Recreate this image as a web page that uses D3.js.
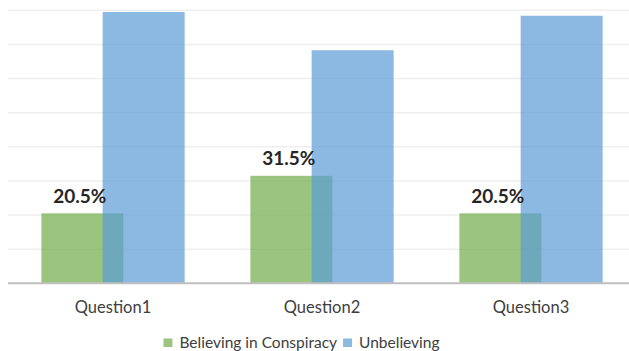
<!DOCTYPE html>
<html>
<head>
<meta charset="utf-8">
<script src="https://cdn.jsdelivr.net/npm/d3@7"></script>
<style>
  body { margin: 0; background: #fff; }
  text { font-family: Lato, "Open Sans", sans-serif; }
</style>
</head>
<body>
<svg></svg>
<script>
let categories = ["Question1", "Question2", "Question3"];
let believing = [20.5, 31.5, 20.5];
let unbelieving = [79.5, 68.3, 78.4];
let gridTicks = [0, 10, 20, 30, 40, 50, 60, 70, 80];
let seriesNames = ["Believing in Conspiracy", "Unbelieving"];
let seriesColors = ["#70AD47", "#5B9BD5"];

window.addEventListener('load', e => {
    let width = 629;
    let height = 351;
    let plotLeft = 8;
    let plotRight = 629;
    let barWidth = 82;
    let overlap = 20.7;

    let svg = d3.select("svg")
                .attr("width", width)
                .attr("height", height);

    let xScale = d3.scaleBand()
                   .domain(categories)
                   .range([8.5, 635.5]);

    let yScale = d3.scaleLinear()
                   .domain([0, 80])
                   .range([283.3, 10.3]);

    // light gridlines
    svg.append("g")
       .selectAll("line")
       .data(gridTicks.slice(1))
       .enter()
       .append("line")
         .attr("x1", plotLeft)
         .attr("x2", plotRight)
         .attr("y1", d => yScale(d))
         .attr("y2", d => yScale(d))
         .attr("stroke", "#efefef")
         .attr("stroke-width", 1.6);

    let pairWidth = barWidth * 2 - overlap;
    let greenX = c => xScale(c) + xScale.bandwidth() / 2 - pairWidth / 2;

    svg.append("g")
       .selectAll("rect")
       .data(categories)
       .enter()
       .append("rect")
         .attr("x", d => greenX(d))
         .attr("y", (d, i) => yScale(believing[i]))
         .attr("width", barWidth)
         .attr("height", (d, i) => yScale(0) - yScale(believing[i]))
         .attr("fill", seriesColors[0])
         .attr("fill-opacity", 0.7);

    svg.append("g")
       .selectAll("rect")
       .data(categories)
       .enter()
       .append("rect")
         .attr("x", d => greenX(d) + barWidth - overlap)
         .attr("y", (d, i) => yScale(unbelieving[i]))
         .attr("width", barWidth)
         .attr("height", (d, i) => yScale(0) - yScale(unbelieving[i]))
         .attr("fill", seriesColors[1])
         .attr("fill-opacity", 0.7);

    // baseline
    let xAxis = d3.axisBottom(xScale).tickSize(0).tickPadding(0);
    let axisG = svg.append("g")
                   .attr("transform", "translate(0," + yScale(0) + ")")
                   .call(xAxis);
    axisG.select(".domain").remove();
    axisG.append("line")
         .attr("x1", plotLeft)
         .attr("x2", plotRight)
         .attr("stroke", "#bfbfbf")
         .attr("stroke-width", 2);
    axisG.selectAll(".tick text")
         .attr("dy", null)
         .attr("y", 29.5)
         .style("font-family", "Lato, sans-serif")
         .style("font-size", "16.5px")
         .attr("fill", "#404040");

    // data labels
    svg.append("g")
       .selectAll("text")
       .data(categories)
       .enter()
       .append("text")
         .attr("x", d => greenX(d) + barWidth / 2 - 2.5)
         .attr("y", (d, i) => yScale(believing[i]) - 10.5)
         .style("text-anchor", "middle")
         .style("font-size", "19px")
         .style("font-weight", "bold")
         .attr("fill", "#262626")
         .text((d, i) => believing[i].toFixed(1) + "%");

    // legend
    let legend = svg.append("g");
    let items = legend.selectAll("g")
                      .data(seriesNames)
                      .enter()
                      .append("g");
    items.append("rect")
         .attr("width", 9)
         .attr("height", 8.5)
         .attr("y", 338.5)
         .attr("fill", (d, i) => seriesColors[i])
         .attr("fill-opacity", 0.7);
    items.append("text")
         .attr("x", 16)
         .attr("y", 348)
         .style("font-size", "15.5px")
         .attr("fill", "#404040")
         .text(d => d);
    let offset = 0;
    let offsets = [];
    items.each(function () {
        offsets.push(offset);
        offset += 16 + this.querySelector("text").getComputedTextLength() + 6;
    });
    let total = offset - 6;
    let start = 301.5 - total / 2;
    items.attr("transform", (d, i) => "translate(" + (start + offsets[i]) + ",0)");
});
</script>
</body>
</html>
